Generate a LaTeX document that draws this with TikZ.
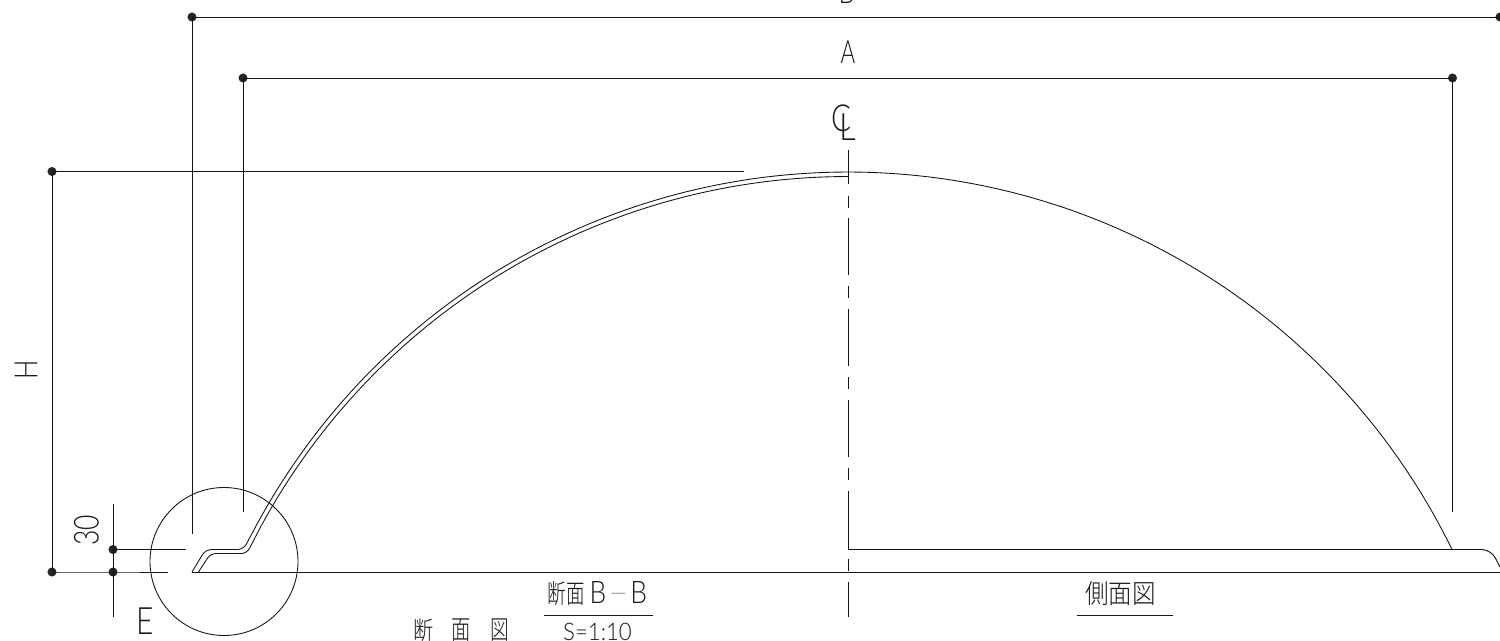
\documentclass[tikz,border=0pt]{standalone}
\usepackage{fontspec}
\usepackage{graphicx}
\newfontfamily\cjkthin{Noto Sans CJK JP Light}
\newfontfamily\latthin{Lato Light}
\newcommand{\fitbox}[3]{\resizebox{#1pt}{#2pt}{#3}}
\tikzset{
  cad/.style={line width=0.72pt,draw=black!92},
  thinline/.style={line width=0.65pt,draw=black!92},
  dimdot/.style={circle,fill=black!85,draw=none,minimum size=6.8pt,inner sep=0pt},
  lbl/.style={inner sep=0pt,outer sep=0pt,text=black!90},
}
\begin{document}
\begin{tikzpicture}[x=0.75pt,y=-0.75pt]
\useasboundingbox (0,0) rectangle (1500,640);
\clip (0,0) rectangle (1500,640);
\fill[white] (0,0) rectangle (1500,640);
% dimension dots
\node[dimdot] (dB1) at (192,17) {};
\node[dimdot] (dB2) at (1500,17) {};
\node[dimdot] (dA1) at (243,78) {};
\node[dimdot] (dA2) at (1452.5,78) {};
\node[dimdot] (dH1) at (52,171.5) {};
\node[dimdot] (dH2) at (52,572) {};
\node[dimdot] (d30a) at (113,549.5) {};
\node[dimdot] (d30b) at (113,572) {};
% free ends
\coordinate (eB) at (192,534);
\coordinate (eA1) at (243,512);
\coordinate (eA2) at (1452.5,512);
\coordinate (eH) at (744,171.5);
\coordinate (e30a) at (186,549.5);
\coordinate (e30b) at (167.5,572);
\coordinate (v30t) at (113,504);
\coordinate (v30b) at (113,617);
\coordinate (baseL) at (192,572);
\coordinate (baseR) at (1500,572);
% dimension lines
\draw[cad] (dB1.center) -- (dB2.center);
\draw[cad] (dB1.center) -- (eB);
\draw[cad] (dA1.center) -- (dA2.center);
\draw[cad] (dA1.center) -- (eA1);
\draw[cad] (dA2.center) -- (eA2);
\draw[cad] (dH1.center) -- (eH);
\draw[cad] (dH1.center) -- (dH2.center);
\draw[cad] (dH2.center) -- (d30b.center) -- (e30b);
\draw[cad] (d30a.center) -- (e30a);
\draw[cad] (v30t) -- (v30b);
\draw[cad] (baseL) -- (baseR);
% centre line
\foreach \a/\b in {150/184,196/208,218/275,286/298,309/366,377/389,400/457,468/480,491/549,559/571,582/617}
  \draw[cad] (848,\a) -- (848,\b);
% section profile, outer
\draw[thinline,rounded corners=4.5pt] (192,572) -- (205.5,549.5) -- (243.5,549.5) -- (257.4,523.3);
\draw[thinline,domain=-61.5:0,samples=120] plot ({848+672*sin(\x)},{844-672*cos(\x)});
% section profile, inner
\draw[thinline,rounded corners=4pt] (198.5,572) -- (210.5,553.5) -- (246.8,553.5) -- (261.4,525.4);
\draw[thinline,domain=-61.5:0,samples=120] plot ({848+667.5*sin(\x)},{844-667.5*cos(\x)});
% side view
\draw[thinline,domain=0:64,samples=120] plot ({848+672*sin(\x)},{844-672*cos(\x)});
\draw[cad,rounded corners=7pt] (848,549.5) -- (1491,549.5) -- (1500,567);
% detail circle
\draw[thinline] (224,561.5) circle (74);
% labels
\node[lbl] (lblB) at (846.5,-8) {\fitbox{12}{17}{\latthin B}};
\node[lbl] (lblA) at (848,52) {\fitbox{11}{17}{\latthin A}};
\node[lbl] (lblC) at (841,118.5) {\fitbox{15}{20}{\latthin C}};
\node[lbl] (lblL) at (848,127.5) {\fitbox{12.5}{20}{\latthin L}};
\node[lbl,rotate=90] (lblH) at (26,369.5) {\fitbox{14.5}{17}{\latthin H}};
\node[lbl,rotate=90] (lbl30) at (86.5,530.5) {\fitbox{23}{18.5}{\latthin 30}};
\node[lbl] (lblE) at (145,621.5) {\fitbox{13}{20}{\latthin E}};
\node[lbl] (t1) at (597.5,594) {\fitbox{27.75}{16.5}{\cjkthin 断面}\hspace{3.5pt}\fitbox{12.5}{16.5}{\latthin B}\hspace{1.5pt}\raisebox{5pt}{\scalebox{2.6}[1]{\latthin –}}\hspace{1.5pt}\fitbox{12.5}{16.5}{\latthin B}};
\node[lbl] (t2) at (597.5,632) {\fitbox{51.5}{13}{\latthin S=1:10}};
\node[lbl] (t3a) at (423,630) {\fitbox{15}{15.5}{\cjkthin 断}};
\node[lbl] (t3b) at (461.5,630) {\fitbox{14.5}{15.5}{\cjkthin 面}};
\node[lbl] (t3c) at (500,630) {\fitbox{14}{15.5}{\cjkthin 図}};
\node[lbl] (t4) at (1120.5,594) {\fitbox{53}{16.5}{\cjkthin 側面図}};
\coordinate (r1a) at (544,615.5); \coordinate (r1b) at (653,615.5);
\coordinate (r2a) at (1077,615.5); \coordinate (r2b) at (1173,615.5);
\draw[cad] (r1a) -- (r1b);
\draw[cad] (r2a) -- (r2b);
\end{tikzpicture}
\end{document}
